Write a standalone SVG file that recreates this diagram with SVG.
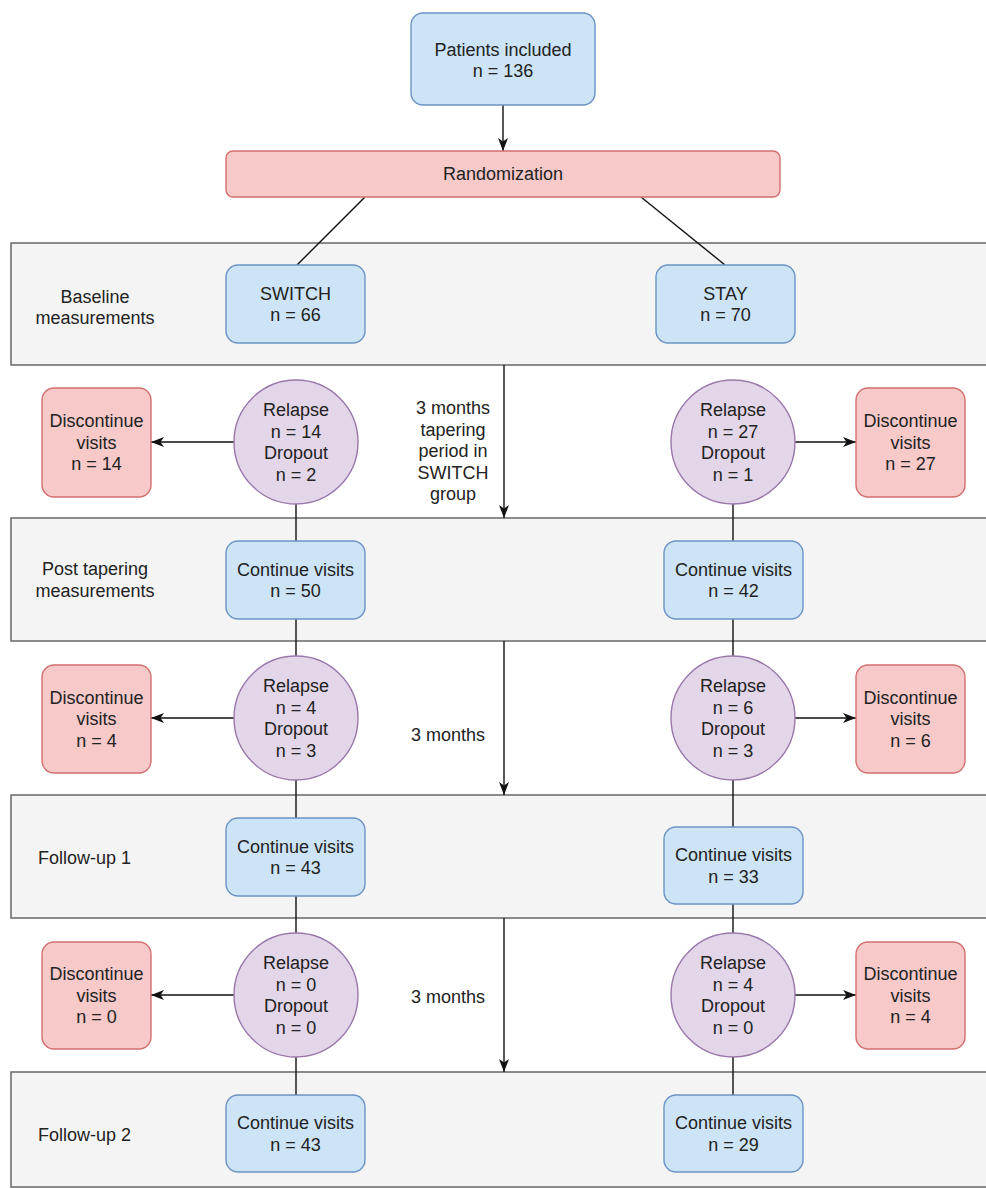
<svg xmlns="http://www.w3.org/2000/svg" width="986" height="1189" viewBox="0 0 986 1189">
<defs>
<style>
text{font-family:"Liberation Sans",Arial,Helvetica,sans-serif;font-size:18px;fill:#222;text-anchor:middle}
.lft{text-anchor:start}
.band{fill:#f4f4f4;stroke:#707070;stroke-width:1.6}
.blue{fill:#cce4f6;stroke:#6c93c4;stroke-width:1.4}
.pink{fill:#f7c9c9;stroke:#d36f6f;stroke-width:1.4}
.purple{fill:#e2d6e8;stroke:#9a78aa;stroke-width:1.4}
.ln{stroke:#111;stroke-width:1.4;fill:none}
</style>
<marker id="arr" markerUnits="userSpaceOnUse" markerWidth="13" markerHeight="10" refX="13" refY="5" orient="auto">
<path d="M0,0 L13,5 L0,10 L3.5,5 Z" fill="#111"/>
</marker>
</defs>
<rect x="0" y="0" width="986" height="1189" fill="#ffffff"/>

<g id="band-baseline"><rect class="band" x="11" y="243" width="990" height="122"/>
<text x="95" y="303">Baseline</text><text x="95" y="324">measurements</text></g>
<g id="band-post"><rect class="band" x="11" y="518" width="990" height="123"/>
<text x="95" y="575">Post tapering</text><text x="95" y="597">measurements</text></g>
<g id="band-fu1"><rect class="band" x="11" y="795" width="990" height="123"/>
<text class="lft" x="38" y="864">Follow-up 1</text></g>
<g id="band-fu2"><rect class="band" x="11" y="1072" width="990" height="115"/>
<text class="lft" x="38" y="1141">Follow-up 2</text></g>

<g id="connectors">
<line class="ln" x1="503" y1="105" x2="503" y2="151" marker-end="url(#arr)"/>
<line class="ln" x1="365" y1="197" x2="297" y2="265"/>
<line class="ln" x1="641" y1="197" x2="725" y2="265"/>
<line class="ln" x1="504" y1="365" x2="504" y2="518" marker-end="url(#arr)"/>
<line class="ln" x1="504" y1="641" x2="504" y2="795" marker-end="url(#arr)"/>
<line class="ln" x1="504" y1="918" x2="504" y2="1072" marker-end="url(#arr)"/>
<line class="ln" x1="296" y1="504" x2="296" y2="541"/>
<line class="ln" x1="296" y1="619" x2="296" y2="656"/>
<line class="ln" x1="296" y1="780" x2="296" y2="818"/>
<line class="ln" x1="296" y1="896" x2="296" y2="933"/>
<line class="ln" x1="296" y1="1057" x2="296" y2="1095"/>
<line class="ln" x1="733" y1="504" x2="733" y2="541"/>
<line class="ln" x1="733" y1="619" x2="733" y2="656"/>
<line class="ln" x1="733" y1="780" x2="733" y2="827"/>
<line class="ln" x1="733" y1="904" x2="733" y2="933"/>
<line class="ln" x1="733" y1="1057" x2="733" y2="1095"/>
<line class="ln" x1="234" y1="442" x2="151" y2="442" marker-end="url(#arr)"/>
<line class="ln" x1="795" y1="442" x2="856" y2="442" marker-end="url(#arr)"/>
<line class="ln" x1="234" y1="718" x2="151" y2="718" marker-end="url(#arr)"/>
<line class="ln" x1="795" y1="718" x2="856" y2="718" marker-end="url(#arr)"/>
<line class="ln" x1="234" y1="995" x2="151" y2="995" marker-end="url(#arr)"/>
<line class="ln" x1="795" y1="995" x2="856" y2="995" marker-end="url(#arr)"/>
</g>

<g id="patients"><rect class="blue" x="411" y="13" width="184" height="92" rx="12"/>
<text x="503" y="55.5">Patients included</text><text x="503" y="77">n = 136</text></g>
<g id="randomization"><rect class="pink" x="226" y="151" width="554" height="46" rx="7"/>
<text x="503" y="180">Randomization</text></g>

<g id="switch"><rect class="blue" x="226" y="265" width="139" height="78" rx="12"/>
<text x="295.5" y="299.5">SWITCH</text><text x="295.5" y="321">n = 66</text></g>
<g id="stay"><rect class="blue" x="656" y="265" width="139" height="78" rx="12"/>
<text x="725.5" y="299.5">STAY</text><text x="725.5" y="321">n = 70</text></g>

<g id="label-tapering">
<text x="453" y="414.3">3 months</text><text x="453" y="435.8">tapering</text><text x="453" y="457.3">period in</text><text x="453" y="478.8">SWITCH</text><text x="453" y="500.3">group</text></g>
<g id="label-3m-1"><text x="448" y="741">3 months</text></g>
<g id="label-3m-2"><text x="448" y="1003">3 months</text></g>

<g id="circle-l1"><circle class="purple" cx="296" cy="442" r="62"/>
<text x="296" y="416">Relapse</text><text x="296" y="437.5">n = 14</text><text x="296" y="459">Dropout</text><text x="296" y="480.5">n = 2</text></g>
<g id="circle-r1"><circle class="purple" cx="733" cy="442" r="62"/>
<text x="733" y="416">Relapse</text><text x="733" y="437.5">n = 27</text><text x="733" y="459">Dropout</text><text x="733" y="480.5">n = 1</text></g>
<g id="disc-l1"><rect class="pink" x="42" y="388" width="109" height="109" rx="12"/>
<text x="96.5" y="427.3">Discontinue</text><text x="96.5" y="448.8">visits</text><text x="96.5" y="470.3">n = 14</text></g>
<g id="disc-r1"><rect class="pink" x="856" y="388" width="109" height="109" rx="12"/>
<text x="910.5" y="427.3">Discontinue</text><text x="910.5" y="448.8">visits</text><text x="910.5" y="470.3">n = 27</text></g>

<g id="cont-l2"><rect class="blue" x="226" y="541" width="139" height="78" rx="12"/>
<text x="295.5" y="575.5">Continue visits</text><text x="295.5" y="597">n = 50</text></g>
<g id="cont-r2"><rect class="blue" x="664" y="541" width="139" height="78" rx="12"/>
<text x="733.5" y="575.5">Continue visits</text><text x="733.5" y="597">n = 42</text></g>

<g id="circle-l2"><circle class="purple" cx="296" cy="718" r="62"/>
<text x="296" y="692">Relapse</text><text x="296" y="713.5">n = 4</text><text x="296" y="735">Dropout</text><text x="296" y="756.5">n = 3</text></g>
<g id="circle-r2"><circle class="purple" cx="733" cy="718" r="62"/>
<text x="733" y="692">Relapse</text><text x="733" y="713.5">n = 6</text><text x="733" y="735">Dropout</text><text x="733" y="756.5">n = 3</text></g>
<g id="disc-l2"><rect class="pink" x="42" y="665" width="109" height="108" rx="12"/>
<text x="96.5" y="703.8">Discontinue</text><text x="96.5" y="725.3">visits</text><text x="96.5" y="746.8">n = 4</text></g>
<g id="disc-r2"><rect class="pink" x="856" y="665" width="109" height="108" rx="12"/>
<text x="910.5" y="703.8">Discontinue</text><text x="910.5" y="725.3">visits</text><text x="910.5" y="746.8">n = 6</text></g>

<g id="cont-l3"><rect class="blue" x="226" y="818" width="139" height="78" rx="12"/>
<text x="295.5" y="852.5">Continue visits</text><text x="295.5" y="874">n = 43</text></g>
<g id="cont-r3"><rect class="blue" x="664" y="827" width="139" height="77" rx="12"/>
<text x="733.5" y="861">Continue visits</text><text x="733.5" y="882.5">n = 33</text></g>

<g id="circle-l3"><circle class="purple" cx="296" cy="995" r="62"/>
<text x="296" y="969">Relapse</text><text x="296" y="990.5">n = 0</text><text x="296" y="1012">Dropout</text><text x="296" y="1033.5">n = 0</text></g>
<g id="circle-r3"><circle class="purple" cx="733" cy="995" r="62"/>
<text x="733" y="969">Relapse</text><text x="733" y="990.5">n = 4</text><text x="733" y="1012">Dropout</text><text x="733" y="1033.5">n = 0</text></g>
<g id="disc-l3"><rect class="pink" x="42" y="942" width="109" height="107" rx="12"/>
<text x="96.5" y="980.3">Discontinue</text><text x="96.5" y="1001.8">visits</text><text x="96.5" y="1023.3">n = 0</text></g>
<g id="disc-r3"><rect class="pink" x="856" y="942" width="109" height="107" rx="12"/>
<text x="910.5" y="980.3">Discontinue</text><text x="910.5" y="1001.8">visits</text><text x="910.5" y="1023.3">n = 4</text></g>

<g id="cont-l4"><rect class="blue" x="226" y="1095" width="139" height="77" rx="12"/>
<text x="295.5" y="1129">Continue visits</text><text x="295.5" y="1150.5">n = 43</text></g>
<g id="cont-r4"><rect class="blue" x="664" y="1095" width="139" height="77" rx="12"/>
<text x="733.5" y="1129">Continue visits</text><text x="733.5" y="1150.5">n = 29</text></g>
</svg>
